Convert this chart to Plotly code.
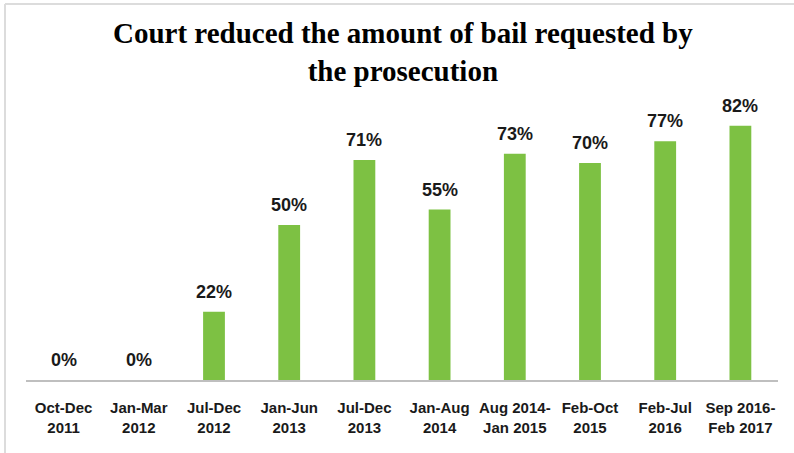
import plotly.graph_objects as go

categories = ["Oct-Dec<br>2011", "Jan-Mar<br>2012", "Jul-Dec<br>2012", "Jan-Jun<br>2013",
              "Jul-Dec<br>2013", "Jan-Aug<br>2014", "Aug 2014-<br>Jan 2015", "Feb-Oct<br>2015",
              "Feb-Jul<br>2016", "Sep 2016-<br>Feb 2017"]
values = [0, 0, 22, 50, 71, 55, 73, 70, 77, 82]
labels = [f"{v}%" for v in values]

title_text = "Court reduced the amount of bail requested by<br>the prosecution"
bar_color = "#7DC143"

fig = go.Figure()
fig.add_trace(go.Bar(
    x=categories, y=values, marker=dict(color=bar_color, line=dict(width=0)),
    width=0.29, hoverinfo="skip",
))

for c, v, t in zip(categories, values, labels):
    fig.add_annotation(x=c, y=v, text=f"<b>{t}</b>", showarrow=False,
                       yanchor="middle", yshift=20,
                       font=dict(family="Liberation Sans", size=18, color="#1a1a1a"))

W, H = 794, 453
ml, mr, mt, mb = 26, 16, 70, 73
pw, ph = W - ml - mr, H - mt - mb

# title as annotation (center of two-line block at y ~ 52px)
fig.add_annotation(xref="paper", yref="paper", x=(403 - ml) / pw, y=(H - mb - 52) / ph,
                   xanchor="center", yanchor="middle", showarrow=False,
                   text=f"<b>{title_text}</b>",
                   font=dict(family="Liberation Serif", size=29, color="black"))

fig.update_layout(
    width=W, height=H,
    margin=dict(l=ml, r=mr, t=mt, b=mb),
    paper_bgcolor="white", plot_bgcolor="white",
    showlegend=False,
    xaxis=dict(showline=True, linecolor="#bfbfbf", linewidth=2, ticks="",
               tickfont=dict(family="Liberation Sans", size=15, color="#1a1a1a", weight="bold"),
               ticklabelstandoff=13, fixedrange=True),
    yaxis=dict(range=[0, 100], visible=False, showgrid=False, zeroline=False, fixedrange=True),
)

# light frame (left and top edges visible)
x0 = (5 - ml) / pw
y1 = (H - mb - 4) / ph
fig.add_shape(type="line", xref="paper", yref="paper", x0=x0, x1=x0, y0=(H - mb - 460) / ph, y1=y1,
              line=dict(color="#dcdcdc", width=2))
fig.add_shape(type="line", xref="paper", yref="paper", x0=x0, x1=(W + 10 - ml) / pw, y0=y1, y1=y1,
              line=dict(color="#dcdcdc", width=2))

fig.write_html("out.html")
